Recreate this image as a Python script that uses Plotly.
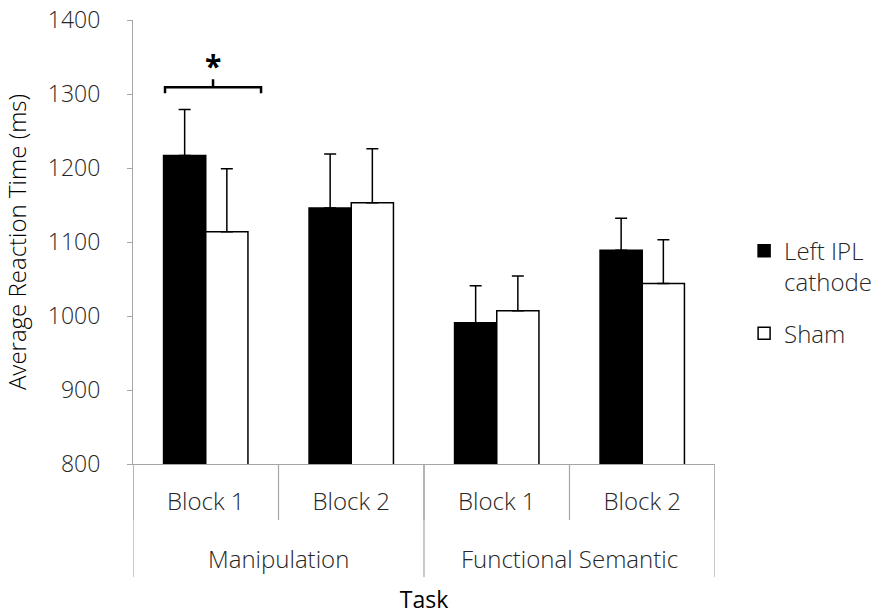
import plotly.graph_objects as go

# ---- data ----
groups = ["Manipulation", "Manipulation", "Functional Semantic", "Functional Semantic"]
blocks = ["Block 1", "Block 2", "Block 1", "Block 2"]
left_mean = [1217, 1146, 991, 1089]
left_err = [62, 73, 50, 43]
sham_mean = [1114, 1153, 1007, 1044]
sham_err = [85, 73, 47, 59]
y_ticks = [800, 900, 1000, 1100, 1200, 1300, 1400]

FONT = "Open Sans"
TXT = "#262626"
pos = list(range(len(blocks)))

fig = go.Figure()
fig.add_trace(go.Bar(
    x=pos, y=left_mean, name="Left IPL<br>cathode", legendgroup="a",
    marker=dict(color="black", line=dict(color="black", width=1.5)),
    error_y=dict(type="data", symmetric=False, array=left_err,
                 arrayminus=[0] * len(left_err), color="black", thickness=1.5, width=6),
))
fig.add_trace(go.Bar(
    x=pos, y=sham_mean, name="Sham", legendgroup="b",
    marker=dict(color="white", line=dict(color="black", width=1.5)),
    error_y=dict(type="data", symmetric=False, array=sham_err,
                 arrayminus=[0] * len(sham_err), color="black", thickness=1.5, width=6),
))

axis_gray = "#a6a6a6"
PLOT_H = 444
shapes = []
# inner boundaries (between blocks)
for b in [p - 0.5 for p in pos] + [pos[-1] + 0.5]:
    shapes.append(dict(type="line", xref="x", yref="paper", x0=b, x1=b,
                       y0=0, y1=-56 / PLOT_H, line=dict(color=axis_gray, width=1.2)))
# outer boundaries (between task groups)
outer = [pos[0] - 0.5]
for i in range(1, len(groups)):
    if groups[i] != groups[i - 1]:
        outer.append(pos[i] - 0.5)
outer.append(pos[-1] + 0.5)
for b in outer:
    shapes.append(dict(type="line", xref="x", yref="paper", x0=b, x1=b,
                       y0=0, y1=-113 / PLOT_H, line=dict(color=axis_gray, width=1.2)))

# significance bracket over Manipulation Block 1
bx0, bx1, bxm = -0.28, 0.38, 0.05
by, by_end, by_top = 1309, 1301, 1320
shapes.append(dict(type="path", xref="x", yref="y",
                   path=f"M {bx0},{by_end} L {bx0},{by} L {bx1},{by} L {bx1},{by_end} "
                        f"M {bxm},{by} L {bxm},{by_top}",
                   line=dict(color="black", width=2.5)))

annotations = []
seen = []
for g in groups:
    if g not in seen:
        seen.append(g)
for g in seen:
    idx = [p for p, gg in zip(pos, groups) if gg == g]
    annotations.append(dict(x=sum(idx) / len(idx), y=-94 / PLOT_H, xref="x", yref="paper",
                            text=g, showarrow=False, yanchor="middle",
                            font=dict(family=FONT, size=24, color=TXT, weight=300)))
annotations.append(dict(x=bxm, y=1338, xref="x", yref="y", text="<b>*</b>", showarrow=False,
                        font=dict(family=FONT, size=30, color="black")))

fig.update_layout(
    width=878, height=615,
    margin=dict(l=133, r=163, t=20, b=151, autoexpand=False),
    plot_bgcolor="white", paper_bgcolor="white",
    barmode="group", bargap=0.42, bargroupgap=0,
    font=dict(family=FONT, color=TXT),
    showlegend=True,
    legend=dict(x=1.05, y=0.53, xanchor="left", yanchor="top", valign="top",
                font=dict(family=FONT, size=24, color=TXT, weight=300),
                traceorder="grouped", tracegroupgap=17, bgcolor="rgba(0,0,0,0)"),
    shapes=shapes, annotations=annotations,
    xaxis=dict(range=[-0.5, len(pos) - 0.5], tickmode="array", tickvals=pos, ticktext=blocks,
               ticks="", showline=True, linecolor=axis_gray, linewidth=1.2, automargin=False,
               showgrid=False, zeroline=False, ticklabelstandoff=16,
               tickfont=dict(family=FONT, size=24, color=TXT, weight=300),
               title=dict(text="Task", standoff=76,
                          font=dict(family=FONT, size=23, color="black"))),
    yaxis=dict(range=[800, 1400], tickmode="array", tickvals=y_ticks, automargin=False,
               ticks="outside", ticklen=5, tickcolor=axis_gray, showline=True,
               linecolor=axis_gray, linewidth=1.2, showgrid=False, zeroline=False,
               ticklabelstandoff=22, ticklabeloverflow="allow",
               tickfont=dict(family=FONT, size=23, color=TXT, weight=300),
               title=dict(text="Average Reaction Time (ms)", standoff=21,
                          font=dict(family=FONT, size=24, color="black", weight=300))),
)

# remove the default 8px page margin so the figure fills the window exactly
fig.write_html("out.html", config={"displayModeBar": False},
               post_script="document.body.style.margin='0';")
